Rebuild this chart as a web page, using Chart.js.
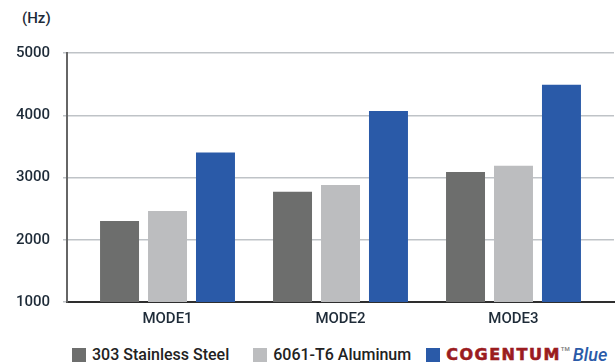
<!DOCTYPE html>
<html>
<head>
<meta charset="utf-8">
<script src="https://cdn.jsdelivr.net/npm/chart.js@4.4.1/dist/chart.umd.min.js"></script>
<style>
  body { margin: 0; width: 616px; height: 362px; background: #fff; font-family: Roboto, sans-serif; position: relative; overflow: hidden; }
  #wrap { position: absolute; left: 0; top: 0; width: 616px; height: 338px; }
  #unit { position: absolute; left: 22px; top: 9px; font-size: 15px; font-weight: 500; color: #1e2b38; }
  #legend { position: absolute; left: 72px; top: 344px; display: flex; align-items: center; font-size: 16px; font-weight: 500; color: #222; white-space: nowrap; }
  .item { display: flex; align-items: center; }
  .sw { width: 14px; height: 14px; margin-right: 6px; }
  .logo { font-family: "DejaVu Sans", sans-serif; font-weight: 900; color: #9b1c1f; font-size: 16px; letter-spacing: 1.5px; -webkit-text-stroke: 0.6px #9b1c1f; }
  .tm { font-size: 6px; color: #777; align-self: flex-start; margin-left: 0px; margin-top: 1px; }
  .blue { font-style: italic; color: #2a5aa8; font-size: 18px; margin-left: 3px; }
</style>
</head>
<body>
<div id="unit">(Hz)</div>
<div id="wrap"><canvas id="chart"></canvas></div>
<div id="legend"></div>

<script>
// categories and values
const modes = ['MODE1', 'MODE2', 'MODE3'];
const stainless = [2300, 2770, 3090];
const aluminum = [2460, 2880, 3190];
const cogentum = [3400, 4070, 4490];
const yTicks = [1000, 2000, 3000, 4000, 5000];

const colors = ['#6d6e6d', '#bcbdbf', '#2a5aa8'];

// bars sit on a linear x scale so the categories can be padded in from the axis ends
function points(arr) {
  return arr.map((v, i) => ({ x: i, y: v }));
}

const ctx = document.getElementById('chart').getContext('2d');
new Chart(ctx, {
  type: 'bar',
  data: {
    datasets: [
      { label: '303 Stainless Steel', data: points(stainless), backgroundColor: colors[0] },
      { label: '6061-T6 Aluminum', data: points(aluminum), backgroundColor: colors[1] },
      { label: 'COGENTUM Blue', data: points(cogentum), backgroundColor: colors[2] }
    ]
  },
  options: {
    responsive: true,
    maintainAspectRatio: false,
    animation: false,
    layout: { padding: { top: 53, right: 2, bottom: 2, left: 0 } },
    datasets: { bar: { categoryPercentage: 0.832, barPercentage: 0.8125 } },
    plugins: { legend: { display: false }, tooltip: { enabled: false } },
    scales: {
      x: {
        type: 'linear',
        offset: false,
        min: -0.581,
        max: 2.581,
        afterBuildTicks: (scale) => { scale.ticks = modes.map((m, i) => ({ value: i })); },
        ticks: {
          padding: 8,
          color: '#1e2b38',
          font: { family: 'Roboto', size: 15, weight: '500' },
          callback: (v) => modes[v]
        },
        grid: { display: false, drawTicks: false },
        border: { display: true, color: '#2e2e2e', width: 2 }
      },
      y: {
        min: 1000,
        max: 5000,
        afterFit: (scale) => { scale.width = 67; },
        afterBuildTicks: (scale) => { scale.ticks = yTicks.map(v => ({ value: v })); },
        ticks: {
          padding: 13,
          color: '#1e2b38',
          font: { family: 'Roboto', size: 15, weight: '500' },
          callback: (v) => String(v)
        },
        grid: { color: '#bfc3c7', lineWidth: 1.5, tickLength: 4 },
        border: { display: true, color: '#666', width: 2 }
      }
    }
  }
});

// legend built from the same labels/colours
const legend = document.getElementById('legend');
const labels = ['303 Stainless Steel', '6061-T6 Aluminum'];
const gaps = ['24px', '15px'];
labels.forEach((t, i) => {
  const item = document.createElement('div');
  item.className = 'item';
  item.style.marginRight = gaps[i];
  item.innerHTML = `<span class="sw" style="background:${colors[i]}"></span><span>${t}</span>`;
  legend.appendChild(item);
});
const last = document.createElement('div');
last.className = 'item';
last.innerHTML = `<span class="sw" style="background:${colors[2]}"></span><span class="logo">COGENTUM</span><span class="tm">TM</span><span class="blue">Blue</span>`;
legend.appendChild(last);
</script>
</body>
</html>
